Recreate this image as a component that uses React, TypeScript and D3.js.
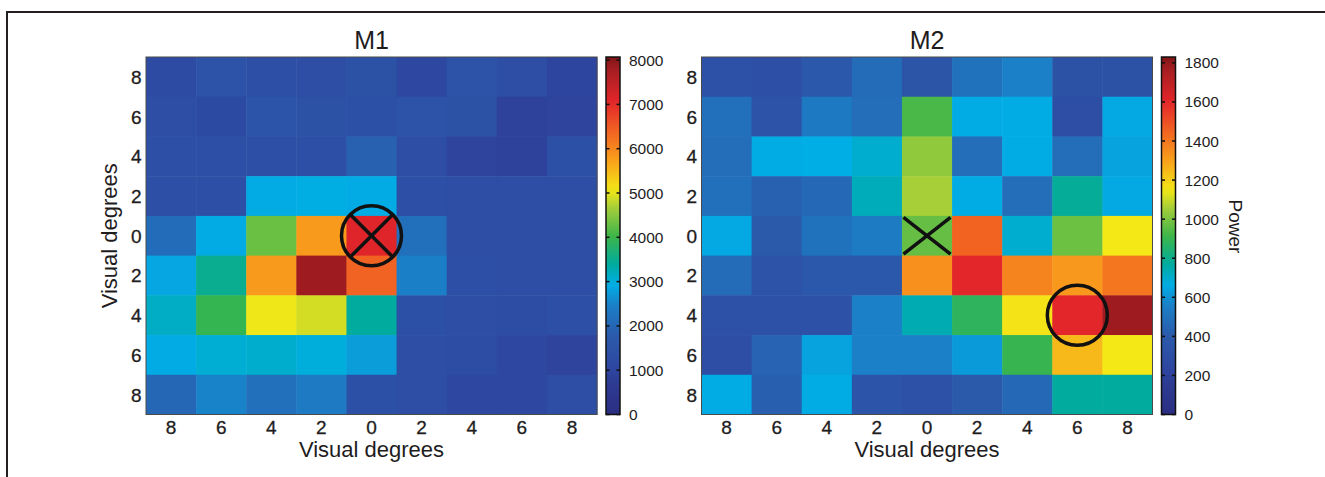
import React from "react";
import * as d3 from "d3";

// tick labels along both axes (visual degrees, mirrored around 0)
const degreeLabels = ["8", "6", "4", "2", "0", "2", "4", "6", "8"];

// M1 power, rows top -> bottom, columns left -> right
const m1Values = [
  [1200, 1500, 1350, 1300, 1450, 1100, 1500, 1300, 1000],
  [1300, 1150, 1550, 1450, 1400, 1500, 1450, 900, 950],
  [1350, 1350, 1350, 1350, 1900, 1300, 950, 900, 1400],
  [1350, 1350, 2900, 2950, 2900, 1350, 1300, 1300, 1300],
  [2100, 2900, 4300, 5800, 7100, 2150, 1300, 1300, 1300],
  [2850, 3500, 5800, 7850, 6400, 2450, 1350, 1300, 1300],
  [3150, 3950, 5050, 4900, 3400, 1400, 1300, 1250, 1350],
  [2900, 3050, 3100, 3000, 2750, 1300, 1250, 1100, 950],
  [2000, 2500, 2150, 2350, 1400, 1300, 1100, 1100, 1300],
];

// M2 power
const m2Values = [
  [320, 310, 380, 470, 360, 500, 560, 330, 330],
  [490, 340, 530, 480, 930, 660, 660, 300, 650],
  [480, 660, 665, 700, 1030, 480, 660, 480, 640],
  [490, 430, 460, 730, 1060, 660, 480, 780, 650],
  [650, 400, 500, 540, 970, 1450, 700, 980, 1150],
  [470, 340, 380, 380, 1340, 1600, 1370, 1320, 1400],
  [320, 320, 320, 560, 740, 880, 1160, 1600, 1780],
  [300, 440, 640, 560, 560, 620, 900, 1250, 1150],
  [660, 420, 660, 350, 320, 400, 460, 770, 770],
];

const m1Ticks = [0, 1000, 2000, 3000, 4000, 5000, 6000, 7000, 8000];
const m2Ticks = [0, 200, 400, 600, 800, 1000, 1200, 1400, 1600, 1800];

// jet-like colormap as printed
const cmapStops = [0, 0.082, 0.126, 0.219, 0.306, 0.363, 0.42, 0.497, 0.574, 0.628, 0.71, 0.79, 0.874, 0.97, 1];
const cmapColors = [
  "#2b2e83", "#2d3a90", "#2e46a0", "#2b5aab", "#1b80c8", "#00aee6", "#00ab9f",
  "#3bb54a", "#9fcc3b", "#f4e816", "#f9a01b", "#f26522", "#e3262a", "#a11d21", "#7f1416",
];

const FONT = "Liberation Sans, Arial, sans-serif";
const INK = "#1e1c1d";
const TOP = 57;
const BOTTOM = 414.5;

type PanelProps = {
  title: string;
  values: number[][];
  max: number;
  ticks: number[];
  left: number;
  id: string;
  marker: { col: number; row: number; circle: boolean; cross: boolean }[];
  yLabel?: string;
  cbLabel?: string;
};

function Panel({ title, values, max, ticks, left, id, marker, yLabel, cbLabel }: PanelProps) {
  const width = 451;
  const x = d3.scaleBand<number>().domain(d3.range(9)).range([left, left + width]);
  const y = d3.scaleBand<number>().domain(d3.range(9)).range([TOP, BOTTOM]);
  const color = d3
    .scaleLinear<string>()
    .domain(cmapStops.map((s) => s * max))
    .range(cmapColors)
    .interpolate(d3.interpolateRgb)
    .clamp(true);

  const cbX = left + width + 9;
  const cbW = 14;
  const cbY = d3.scaleLinear().domain([0, max]).range([BOTTOM, TOP]);
  const gradStops = d3.range(0, 1.0001, 0.02);
  const cx = left + width / 2;

  return (
    <g>
      <defs>
        <linearGradient id={id} x1="0" y1="1" x2="0" y2="0">
          {gradStops.map((t) => (
            <stop key={t} offset={t} stopColor={color(t * max)} />
          ))}
        </linearGradient>
      </defs>
      <text x={cx} y={48.5} textAnchor="middle" fontSize={25} fontFamily={FONT} fill={INK}>
        {title}
      </text>
      {values.map((row, ri) =>
        row.map((v, ci) => (
          <rect
            key={`${ri}-${ci}`}
            x={x(ci)}
            y={y(ri)}
            width={x.bandwidth() + 0.5}
            height={y.bandwidth() + 0.5}
            fill={color(v)}
          />
        ))
      )}
      <rect x={left} y={TOP} width={width} height={BOTTOM - TOP} fill="none" stroke="#4a4a4a" strokeWidth={1} />
      {degreeLabels.map((l, i) => (
        <text
          key={"y" + i}
          x={left - 4.5}
          y={y(i)! + y.bandwidth() / 2 + 7}
          textAnchor="end"
          fontSize={19}
          fontFamily={FONT}
          fill={INK}
          stroke={INK}
          strokeWidth={0.3}
        >
          {l}
        </text>
      ))}
      {degreeLabels.map((l, i) => (
        <text
          key={"x" + i}
          x={x(i)! + x.bandwidth() / 2}
          y={433.5}
          textAnchor="middle"
          fontSize={19}
          fontFamily={FONT}
          fill={INK}
          stroke={INK}
          strokeWidth={0.3}
        >
          {l}
        </text>
      ))}
      <text x={cx} y={457} textAnchor="middle" fontSize={22} fontFamily={FONT} fill={INK}>
        Visual degrees
      </text>
      {yLabel && (
        <text
          transform={`translate(${left - 29},${(TOP + BOTTOM) / 2}) rotate(-90)`}
          textAnchor="middle"
          fontSize={22}
          fontFamily={FONT}
          fill={INK}
        >
          {yLabel}
        </text>
      )}
      {/* colorbar */}
      <rect x={cbX} y={TOP} width={cbW} height={BOTTOM - TOP} fill={`url(#${id})`} stroke="#111" strokeWidth={1.5} />
      {ticks.map((t) => (
        <g key={"t" + t}>
          <line x1={cbX} x2={cbX + 3.5} y1={cbY(t)} y2={cbY(t)} stroke="#111" strokeWidth={1.5} />
          <line x1={cbX + cbW - 3.5} x2={cbX + cbW} y1={cbY(t)} y2={cbY(t)} stroke="#111" strokeWidth={1.5} />
          <text x={cbX + cbW + 9} y={cbY(t) + 5.5} fontSize={15.5} fontFamily={FONT} fill={INK}>
            {t}
          </text>
        </g>
      ))}
      {cbLabel && (
        <text
          transform={`translate(${cbX + 67.5},${226.5}) rotate(90)`}
          textAnchor="middle"
          fontSize={19}
          fontFamily={FONT}
          fill={INK}
        >
          {cbLabel}
        </text>
      )}
      {marker.map((m, i) => {
        const mx = x(m.col)! + x.bandwidth() / 2;
        const my = y(m.row)! + y.bandwidth() / 2;
        const r = 30;
        const d = m.circle ? 21.5 : 0;
        const hx = m.circle ? d : x.bandwidth() / 2 - 1.5;
        const hy = m.circle ? d : y.bandwidth() / 2 - 1.5;
        return (
          <g key={"m" + i} stroke="#111" strokeWidth={3.5} fill="none">
            {m.circle && <circle cx={mx} cy={my} r={r} />}
            {m.cross && (
              <>
                <line x1={mx - hx} y1={my - hy} x2={mx + hx} y2={my + hy} />
                <line x1={mx - hx} y1={my + hy} x2={mx + hx} y2={my - hy} />
              </>
            )}
          </g>
        );
      })}
    </g>
  );
}

export default function App() {
  return (
    <svg width={1325} height={477} style={{ position: "absolute", left: 0, top: 0, background: "#fff" }}>
      <rect x={0} y={0} width={1325} height={477} fill="#fff" />
      <path d="M7,477 V12 H1325" fill="none" stroke="#231f20" strokeWidth={2} />
      <Panel
        title="M1"
        values={m1Values}
        max={8070}
        ticks={m1Ticks}
        left={146}
        id="cbM1"
        yLabel="Visual degrees"
        marker={[{ col: 4, row: 4, circle: true, cross: true }]}
      />
      <Panel
        title="M2"
        values={m2Values}
        max={1830}
        ticks={m2Ticks}
        left={701.5}
        id="cbM2"
        cbLabel="Power"
        marker={[
          { col: 4, row: 4, circle: false, cross: true },
          { col: 7, row: 6, circle: true, cross: false },
        ]}
      />
    </svg>
  );
}
